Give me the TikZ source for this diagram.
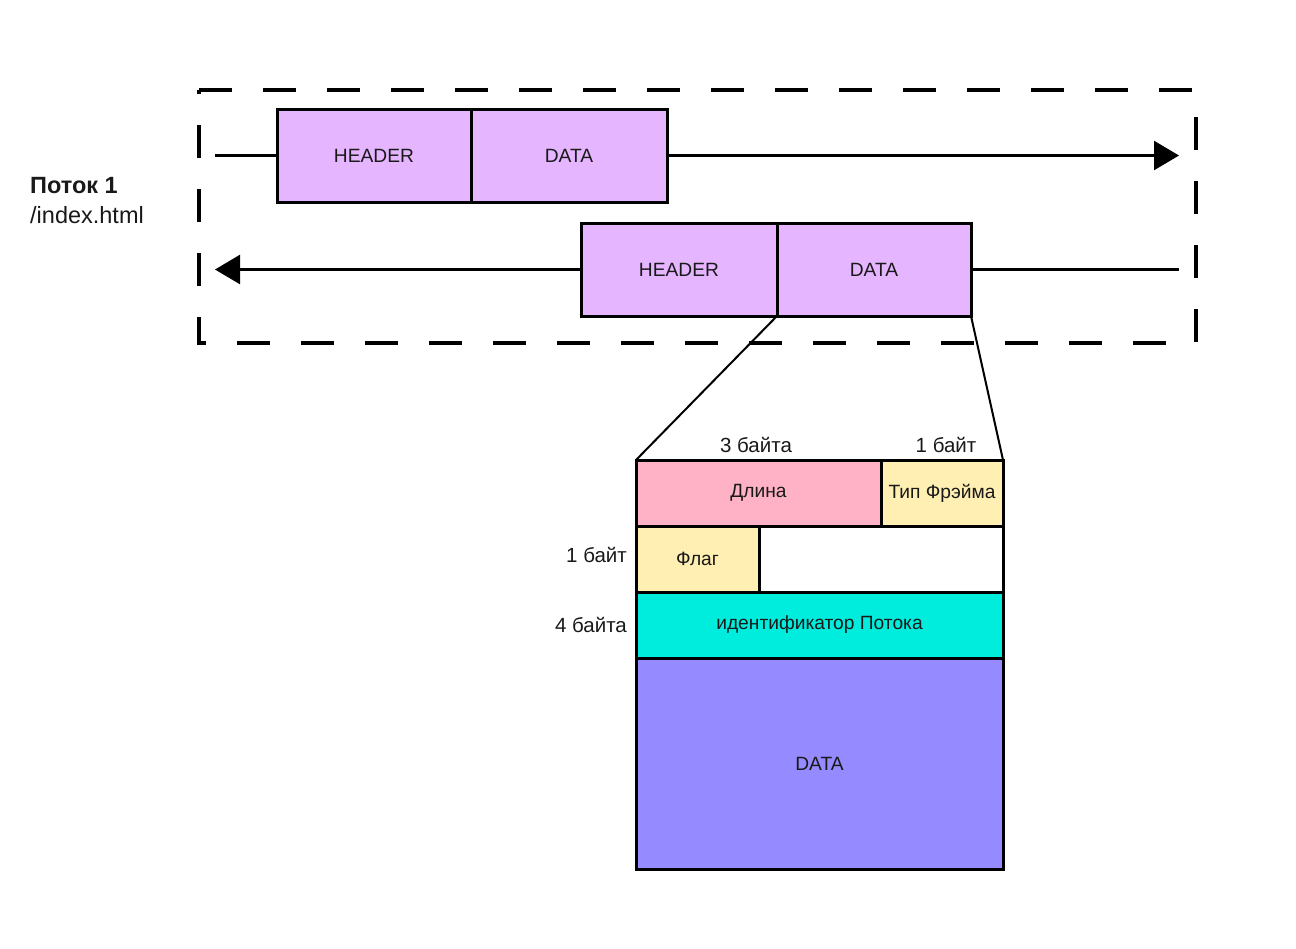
\documentclass[tikz,border=0pt]{standalone}
\usepackage{fontspec}
\setmainfont{Liberation Sans}
\usetikzlibrary{arrows.meta}
\definecolor{lilac}{HTML}{E6B5FF}
\definecolor{pinkc}{HTML}{FFB2C6}
\definecolor{yel}{HTML}{FFEFB3}
\definecolor{cyanc}{HTML}{00ECDC}
\definecolor{viol}{HTML}{958AFF}
\tikzset{
  cell/.style={draw=black, line width=3pt, inner sep=0pt, outer sep=0pt, anchor=north west,
    font=\fontsize{19.2}{22}\selectfont, text=black!90},
  lbl/.style={inner sep=0pt, font=\fontsize{20.5}{23}\selectfont, text=black!90},
  conn/.style={line width=2.5pt},
  tip/.style={-{Triangle[length=25pt,width=29pt]}},
}
\begin{document}
\begin{tikzpicture}[x=1pt,y=-1pt]
\useasboundingbox (0,0) rectangle (1296,948);
% dashed stream frame
\draw[line width=4pt, dash pattern=on 33pt off 31pt] (199,90) -- (1196,90) -- (1196,343) -- (199,343) -- cycle;
% title
\node[lbl, anchor=west, font=\fontsize{23.5}{26}\selectfont\bfseries] (t1) at (30,186) {Поток 1};
\node[lbl, anchor=west, font=\fontsize{23.5}{26}\selectfont] (t2) at (30,215) {/index.html};
% top row
\node[cell, fill=lilac, minimum width=194pt, minimum height=93pt] (h1) at (277,109) {HEADER};
\node[cell, fill=lilac, minimum width=196pt, minimum height=93pt] (d1) at (471,109) {DATA};
\coordinate (l1) at (215,155.5);
\coordinate (r1) at (1179,155.5);
\draw[conn] (l1) -- (h1.west);
\draw[conn, tip] (d1.east) -- (r1);
% bottom row
\node[cell, fill=lilac, minimum width=196pt, minimum height=93pt] (h2) at (581,223) {HEADER};
\node[cell, fill=lilac, minimum width=194pt, minimum height=93pt] (d2) at (777,223) {DATA};
\coordinate (l2) at (215,269.5);
\coordinate (r2) at (1179,269.5);
\draw[conn, tip] (h2.west) -- (l2);
\draw[conn] (d2.east) -- (r2);
% frame structure
\node[cell, fill=pinkc, minimum width=245pt, minimum height=66pt] (len) at (636,460) {Длина};
\node[cell, fill=yel, minimum width=122pt, minimum height=66pt] (typ) at (881,460) {Тип Фрэйма};
\node[cell, fill=yel, minimum width=123pt, minimum height=66pt] (flag) at (636,526) {Флаг};
\node[cell, fill=white, minimum width=244pt, minimum height=66pt] (emp) at (759,526) {};
\node[cell, fill=cyanc, minimum width=367pt, minimum height=66pt] (sid) at (636,592) {идентификатор Потока};
\node[cell, fill=viol, minimum width=367pt, minimum height=211pt] (dat) at (636,658) {DATA};
% zoom lines
\draw[line width=2pt] (d2.south west) -- (len.north west);
\draw[line width=2pt] (d2.south east) -- (typ.north east);
% size labels
\node[lbl] (b3) at (756,445) {3 байта};
\node[lbl] (b1) at (946,445) {1 байт};
\node[lbl, anchor=east] (bf) at (627,555) {1 байт};
\node[lbl, anchor=east] (b4) at (627,625) {4 байта};
\end{tikzpicture}
\end{document}
